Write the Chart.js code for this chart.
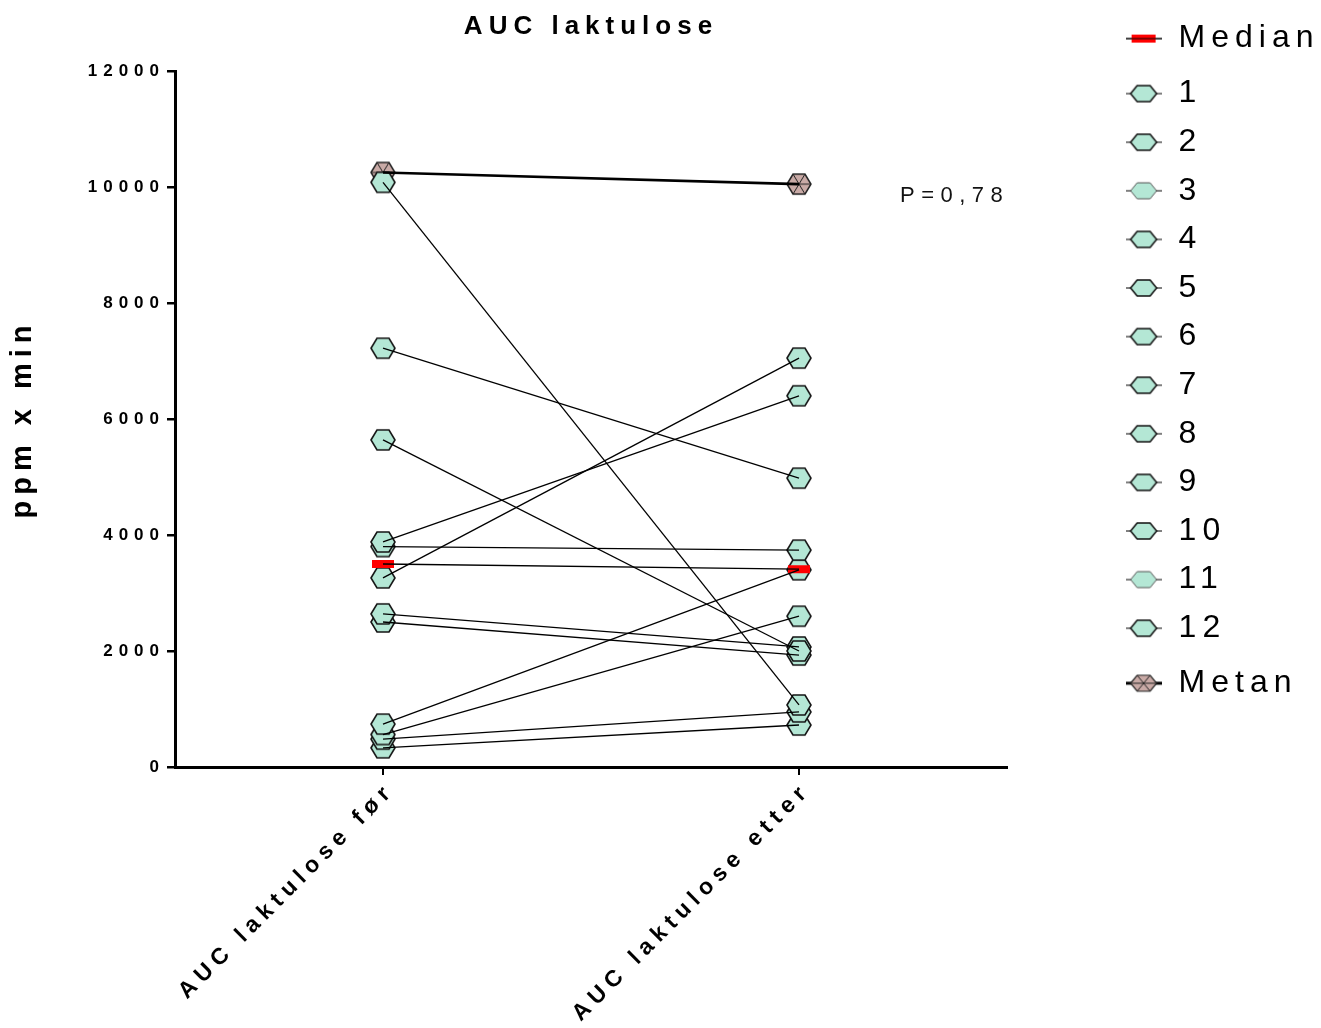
<!DOCTYPE html>
<html>
<head>
<meta charset="utf-8">
<script src="https://cdn.jsdelivr.net/npm/chart.js@4.4.1/dist/chart.umd.min.js"></script>
<style>
  html, body { margin: 0; padding: 0; background: #fff; }
  canvas { display: block; }
</style>
</head>
<body>
<canvas id="aucChart" width="1321" height="1028"></canvas>
<script>
// Values
const categories = ['AUC laktulose før', 'AUC laktulose etter'];
const subjects = ['1', '2', '3', '4', '5', '6', '7', '8', '9', '10', '11', '12'];
const before = [10080, 7220, 5640, 3880, 3800, 3260, 2640, 2500, 740, 560, 480, 330];
const after  = [1070, 4980, 2000, 6400, 3740, 7050, 2070, 1930, 3400, 2600, 950, 724];
const medianValues = [3500, 3410];
const metanValues = [10250, 10050];
const yTicks = [0, 2000, 4000, 6000, 8000, 10000, 12000];
const pValueText = 'P=0,78';
const pValueY = 9850;

const FONT = "Arial, 'Liberation Sans', sans-serif";
const LETTER_SPACING = '6px';
const MINT = '#b4e7d5';
const ROSE = '#c9aaa6';
const lightBorder = ['3', '11']; // legend icons with a thinner grey outline

function hexPath(ctx, cx, cy, w, h) {
    ctx.beginPath();
    ctx.moveTo(cx - w / 2, cy);
    ctx.lineTo(cx - w / 4, cy - h / 2);
    ctx.lineTo(cx + w / 4, cy - h / 2);
    ctx.lineTo(cx + w / 2, cy);
    ctx.lineTo(cx + w / 4, cy + h / 2);
    ctx.lineTo(cx - w / 4, cy + h / 2);
    ctx.closePath();
}

// Builds a small canvas used as a pointStyle (plot marker or legend icon)
function makeIcon(opts) {
    const c = document.createElement('canvas');
    c.width = opts.cw;
    c.height = opts.ch;
    const ctx = c.getContext('2d');
    const cx = opts.cw / 2, cy = opts.ch / 2;
    if (opts.line) {
        ctx.strokeStyle = '#000';
        ctx.lineWidth = opts.line;
        ctx.beginPath();
        ctx.moveTo(0, cy);
        ctx.lineTo(opts.cw, cy);
        ctx.stroke();
    }
    if (opts.rect) {
        ctx.fillStyle = '#ff0000';
        ctx.fillRect(cx - opts.rect[0] / 2, cy - opts.rect[1] / 2, opts.rect[0], opts.rect[1]);
        if (opts.line) {
            ctx.strokeStyle = '#000';
            ctx.lineWidth = 1;
            ctx.beginPath();
            ctx.moveTo(0, cy);
            ctx.lineTo(opts.cw, cy);
            ctx.stroke();
        }
        return c;
    }
    hexPath(ctx, cx, cy, opts.w, opts.h);
    ctx.fillStyle = opts.fill;
    ctx.fill();
    ctx.strokeStyle = opts.stroke;
    ctx.lineWidth = opts.sw;
    ctx.stroke();
    if (opts.spokes) {
        ctx.beginPath();
        ctx.moveTo(cx - opts.w / 2, cy); ctx.lineTo(cx + opts.w / 2, cy);
        ctx.moveTo(cx - opts.w / 4, cy - opts.h / 2); ctx.lineTo(cx + opts.w / 4, cy + opts.h / 2);
        ctx.moveTo(cx + opts.w / 4, cy - opts.h / 2); ctx.lineTo(cx - opts.w / 4, cy + opts.h / 2);
        ctx.lineWidth = 1;
        ctx.stroke();
    }
    return c;
}

const plotHex = makeIcon({ cw: 28, ch: 24, w: 24, h: 20, fill: MINT, stroke: '#151515', sw: 1.6 });
const plotMetan = makeIcon({ cw: 28, ch: 24, w: 24, h: 20, fill: ROSE, stroke: '#222', sw: 1.5, spokes: true });
const plotMedian = makeIcon({ cw: 24, ch: 10, rect: [22, 8] });

const legendHex = subjects.map(s => {
    const light = lightBorder.includes(s);
    return makeIcon({ cw: 36, ch: 20, w: 26, h: 16, fill: MINT, stroke: light ? '#555' : '#111', sw: light ? 1 : 1.5, line: 1 });
});
const legendMetan = makeIcon({ cw: 36, ch: 20, w: 26, h: 16, fill: ROSE, stroke: '#222', sw: 1.2, spokes: true, line: 3 });
const legendMedian = makeIcon({ cw: 36, ch: 12, rect: [24, 8], line: 1 });

// points first (drawn underneath), connecting lines on top
const datasets = [];
subjects.forEach((s, i) => {
    datasets.push({
        label: s,
        data: [before[i], after[i]],
        showLine: false,
        pointStyle: plotHex,
        pointRadius: 11,
        order: 3
    });
    datasets.push({
        label: s + ' line',
        data: [before[i], after[i]],
        borderColor: '#000',
        borderWidth: 1.3,
        pointRadius: 0,
        order: 1
    });
});
datasets.push({ label: 'Median', data: medianValues, showLine: false, pointStyle: plotMedian, pointRadius: 11, order: 2 });
datasets.push({ label: 'Median line', data: medianValues, borderColor: '#000', borderWidth: 1.3, pointRadius: 0, order: 1 });
datasets.push({ label: 'Metan', data: metanValues, showLine: false, pointStyle: plotMetan, pointRadius: 11, order: 3 });
datasets.push({ label: 'Metan line', data: metanValues, borderColor: '#000', borderWidth: 2.6, pointRadius: 0, order: 1 });

// canvas letterSpacing is part of the context state, so set it before layout and before drawing
const spacingPlugin = {
    id: 'spacing',
    beforeUpdate(chart) { chart.ctx.letterSpacing = LETTER_SPACING; },
    beforeDraw(chart) { chart.ctx.letterSpacing = LETTER_SPACING; }
};

const pValuePlugin = {
    id: 'pValue',
    afterDraw(chart) {
        const { ctx, chartArea, scales } = chart;
        ctx.save();
        ctx.letterSpacing = '6.5px';
        ctx.font = '22px ' + FONT;
        ctx.fillStyle = '#111';
        ctx.textAlign = 'left';
        ctx.textBaseline = 'middle';
        ctx.fillText(pValueText, chartArea.right - 107, scales.y.getPixelForValue(pValueY));
        ctx.restore();
    }
};

new Chart(document.getElementById('aucChart'), {
    type: 'line',
    data: { labels: categories, datasets },
    plugins: [spacingPlugin, pValuePlugin],
    options: {
        responsive: false,
        animation: false,
        events: [],
        layout: { padding: { top: 6, left: 0, right: 0, bottom: 0 } },
        plugins: {
            tooltip: { enabled: false },
            title: {
                display: true,
                text: 'AUC laktulose',
                fullSize: false,
                color: '#000',
                font: { family: FONT, size: 26, weight: 'bold' },
                padding: { top: 5.4, bottom: 28.4 }
            },
            legend: {
                position: 'right',
                align: 'start',
                maxWidth: 213,
                labels: {
                    usePointStyle: true,
                    pointStyleWidth: 38,
                    padding: 16.6,
                    color: '#000',
                    font: { family: FONT, size: 32 },
                    generateLabels() {
                        // one-line arrays get a taller slot: wider gaps after "Median" and "12"
                        const items = [{ text: ['Median'], pointStyle: legendMedian }];
                        subjects.forEach((s, i) => items.push({
                            text: i === subjects.length - 1 ? [s] : s,
                            pointStyle: legendHex[i]
                        }));
                        items.push({ text: 'Metan', pointStyle: legendMetan });
                        return items.map(it => Object.assign(it, {
                            fillStyle: 'transparent', strokeStyle: 'transparent', lineWidth: 0, hidden: false
                        }));
                    }
                }
            }
        },
        scales: {
            x: {
                type: 'category',
                offset: true,
                afterFit(scale) { scale.height = 261; },
                grid: { display: true, drawOnChartArea: false, offset: false, tickLength: 8, lineWidth: 2, color: '#000' },
                border: { display: true, width: 3, color: '#000' },
                ticks: {
                    autoSkip: false,
                    minRotation: 45,
                    maxRotation: 45,
                    padding: 2,
                    labelOffset: 8,
                    color: '#000',
                    font: { family: FONT, size: 23, weight: 'bold' }
                }
            },
            y: {
                type: 'linear',
                min: 0,
                max: 12000,
                afterFit(scale) { scale.width = 175; },
                afterBuildTicks(scale) { scale.ticks = yTicks.map(v => ({ value: v })); },
                grid: { display: true, drawOnChartArea: false, tickLength: 8, lineWidth: 2.5, color: '#000' },
                border: { display: true, width: 3, color: '#000' },
                ticks: {
                    padding: 2,
                    color: '#000',
                    font: { family: FONT, size: 17, weight: 'bold' },
                    callback: v => String(v)
                },
                title: {
                    display: true,
                    text: 'ppm x min',
                    color: '#000',
                    font: { family: FONT, size: 29, weight: 'bold' },
                    padding: { top: 6, bottom: 0 }
                }
            },
            // empty axis that only keeps the gap between the plot and the legend
            gap: {
                type: 'linear',
                position: 'right',
                afterFit(scale) { scale.width = 101; },
                grid: { display: false },
                border: { display: false },
                ticks: { display: false }
            }
        }
    }
});
</script>
</body>
</html>
